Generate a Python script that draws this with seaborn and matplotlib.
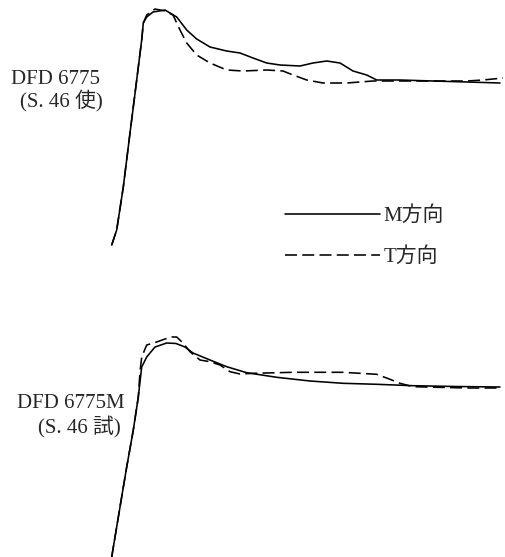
import matplotlib
matplotlib.use("Agg")
import matplotlib.pyplot as plt
import seaborn as sns

sns.set_theme(style="white")
plt.rcParams['font.family'] = ['Liberation Serif', 'Noto Sans CJK JP', 'DejaVu Sans']

# ---- data (strain and stress in arbitrary units) ----
# Top specimen: DFD 6775 (S.46使)
top_M_x = [1.7, 6.7, 13.3, 20, 26.7, 31.7, 33.3, 36.7, 43, 55, 60, 66.7, 76.7, 86.7, 100, 116.7, 130, 143,
           156.7, 170, 190, 203, 216.7, 230, 243, 256.7, 266.7, 290, 323, 357, 390]
top_M_y = [0, 15, 58, 112, 165, 205, 222, 228, 233, 235, 232, 228, 215, 206, 198, 194, 192, 187,
           182, 180, 179, 182, 184, 182, 174, 170, 165, 165, 164, 163, 162]
top_T_x = [1.7, 6.7, 13.3, 20, 26.7, 31.7, 33.3, 36.7, 45, 55, 63, 70, 76.7, 86.7, 100, 116.7, 133, 156.7,
           173, 183, 196.7, 213, 236.7, 263, 290, 323, 357, 373, 393]
top_T_y = [0, 15, 58, 112, 165, 205, 222, 230, 236, 234, 230, 215, 202, 190, 182, 175, 174, 175,
           174, 170, 165, 162, 162, 164, 164, 164, 164, 165, 167]

# Bottom specimen: DFD 6775M (S.46試)
bot_M_x = [1.7, 10, 16.7, 23.3, 28.3, 31.7, 36.7, 45, 56.7, 66, 75, 83, 100, 116.7, 136.7, 166.7, 200, 233,
           266.7, 303, 345, 390]
bot_M_y = [0, 50, 90, 127, 160, 190, 200, 210, 214, 213.5, 210, 204, 197, 190.3, 184.3, 179.7, 176, 173.7,
           172.7, 171.3, 170.5, 170]
bot_T_x = [1.7, 10, 16.7, 23.3, 28.3, 30, 31.7, 36.7, 46.7, 55, 61.7, 66.7, 73, 80, 90, 100, 110, 120, 130,
           143, 183, 233, 266.7, 280, 290, 303, 357, 390]
bot_T_y = [0, 50, 90, 127, 160, 185, 200, 212, 215, 218, 220, 220, 214, 205.3, 197, 195.3, 192, 185.3, 183,
           183.7, 184.7, 184.7, 182.7, 177.7, 173.7, 170.3, 169, 169]

labels_top = ["DFD 6775", "(S. 46 使)"]
labels_bot = ["DFD 6775M", "(S. 46 試)"]
legend_labels = ["M方向", "T方向"]

W, H = 505, 557
fig = plt.figure(figsize=(W / 100, H / 100), dpi=100)

ax1 = fig.add_axes([0, 1 - 280 / H, 1, 280 / H])
ax1.set_xlim(-110, 395)
ax1.set_ylim(-35, 245)
ax2 = fig.add_axes([0, 0, 1, 277 / H])
ax2.set_xlim(-110, 395)
ax2.set_ylim(0, 277)

lw = 1.15
dash = (7.5, 3.3)

sns.lineplot(x=top_M_x, y=top_M_y, ax=ax1, color='black', lw=lw, sort=False, label=legend_labels[0])
sns.lineplot(x=top_T_x, y=top_T_y, ax=ax1, color='black', lw=lw, sort=False, label=legend_labels[1])
ax1.lines[1].set_dashes(dash)

sns.lineplot(x=bot_M_x, y=bot_M_y, ax=ax2, color='black', lw=lw, sort=False)
sns.lineplot(x=bot_T_x, y=bot_T_y, ax=ax2, color='black', lw=lw, sort=False)
ax2.lines[1].set_dashes(dash)

for ax in (ax1, ax2):
    ax.axis('off')
    ax.patch.set_alpha(0)

fs = 15
fig.text(11 / W, 1 - 80 / H, labels_top[0], fontsize=fs, ha='left', va='center')
fig.text(20 / W, 1 - 101 / H, labels_top[1], fontsize=fs, ha='left', va='center')
fig.text(17 / W, 1 - 404 / H, labels_bot[0], fontsize=fs, ha='left', va='center')
fig.text(38 / W, 1 - 426 / H, labels_bot[1], fontsize=fs, ha='left', va='center')

leg = ax1.legend(loc='upper left', bbox_to_anchor=(285 / W, 1 - 206 / H),
                 bbox_transform=fig.transFigure, frameon=False,
                 handlelength=4.57, handletextpad=0.15, labelspacing=1.02,
                 fontsize=15, borderaxespad=0, borderpad=0)
for h in leg.get_lines():
    h.set_linewidth(lw)
leg.get_lines()[1].set_dashes(dash)

fig.savefig("out.png", dpi=100, facecolor='white')
